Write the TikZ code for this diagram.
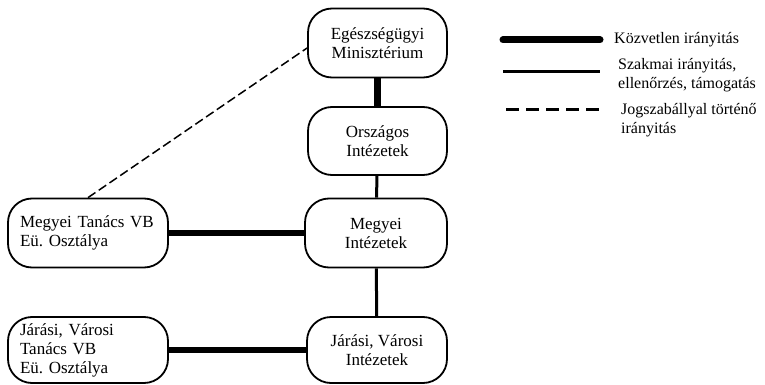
\documentclass[tikz,border=0pt]{standalone}
\usepackage{fontspec}
\setmainfont{Liberation Serif}
\frenchspacing
\begin{document}
\begin{tikzpicture}[x=1pt,y=-1pt,
  box/.style={draw,line width=1.8pt,rounded corners=24pt,minimum width=139pt,minimum height=69pt,align=center,font=\fontsize{17}{19}\selectfont,inner sep=2pt},
  lbox/.style={box,minimum width=160pt,text width=136pt,align=left},
  direct/.style={line width=6.5pt},
  prof/.style={line width=3pt},
  legal/.style={line width=1.5pt,dash pattern=on 9pt off 4pt},
  leg/.style={font=\fontsize{16}{19}\selectfont,align=left,anchor=west,inner sep=0pt}]
\useasboundingbox (0,0) rectangle (765,385);
\node[box] (min) at (377.5,43) {Egészségügyi\\Minisztérium};
\node[box,minimum height=68pt] (orsz) at (377.5,141) {Országos\\Intézetek};
\node[box,minimum width=142pt] (megy) at (376,233) {Megyei\\Intézetek};
\node[lbox] (mtan) at (88,233) {Megyei Tanács VB\\Eü. Osztálya};
\node[box,minimum width=140pt,minimum height=66pt] (jint) at (377,350) {Járási, Városi\\Intézetek};
\node[lbox,minimum height=66pt] (jtan) at (88,350) {Járási, Városi\\Tanács VB\\Eü. Osztálya};
\draw[direct] (min) -- (orsz);
\draw[prof] (orsz) -- (megy);
\draw[prof] (megy) -- (jint);
\draw[direct] (mtan) -- (megy);
\draw[direct] (jtan) -- (jint);
\draw[legal] (mtan.north) -- ([yshift=-5pt]min.west);
% legend
\coordinate (l1a) at (503,40); \coordinate (l1b) at (600,40);
\coordinate (l2a) at (503,72); \coordinate (l2b) at (600,72);
\coordinate (l3a) at (506,110); \coordinate (l3b) at (600,110);
\draw[line width=7pt,line cap=round] (l1a) -- (l1b);
\draw[line width=3pt] (l2a) -- (l2b);
\draw[line width=3pt,dash pattern=on 13pt off 7pt] (l3a) -- (l3b);
\node[leg] (t1) at (614,40) {Közvetlen irányitás};
\node[leg] (t2) at (618,75) {Szakmai irányitás,\\ellenőrzés, támogatás};
\node[leg] (t3) at (621,120) {Jogszabállyal történő\\irányitás};
\end{tikzpicture}
\end{document}
